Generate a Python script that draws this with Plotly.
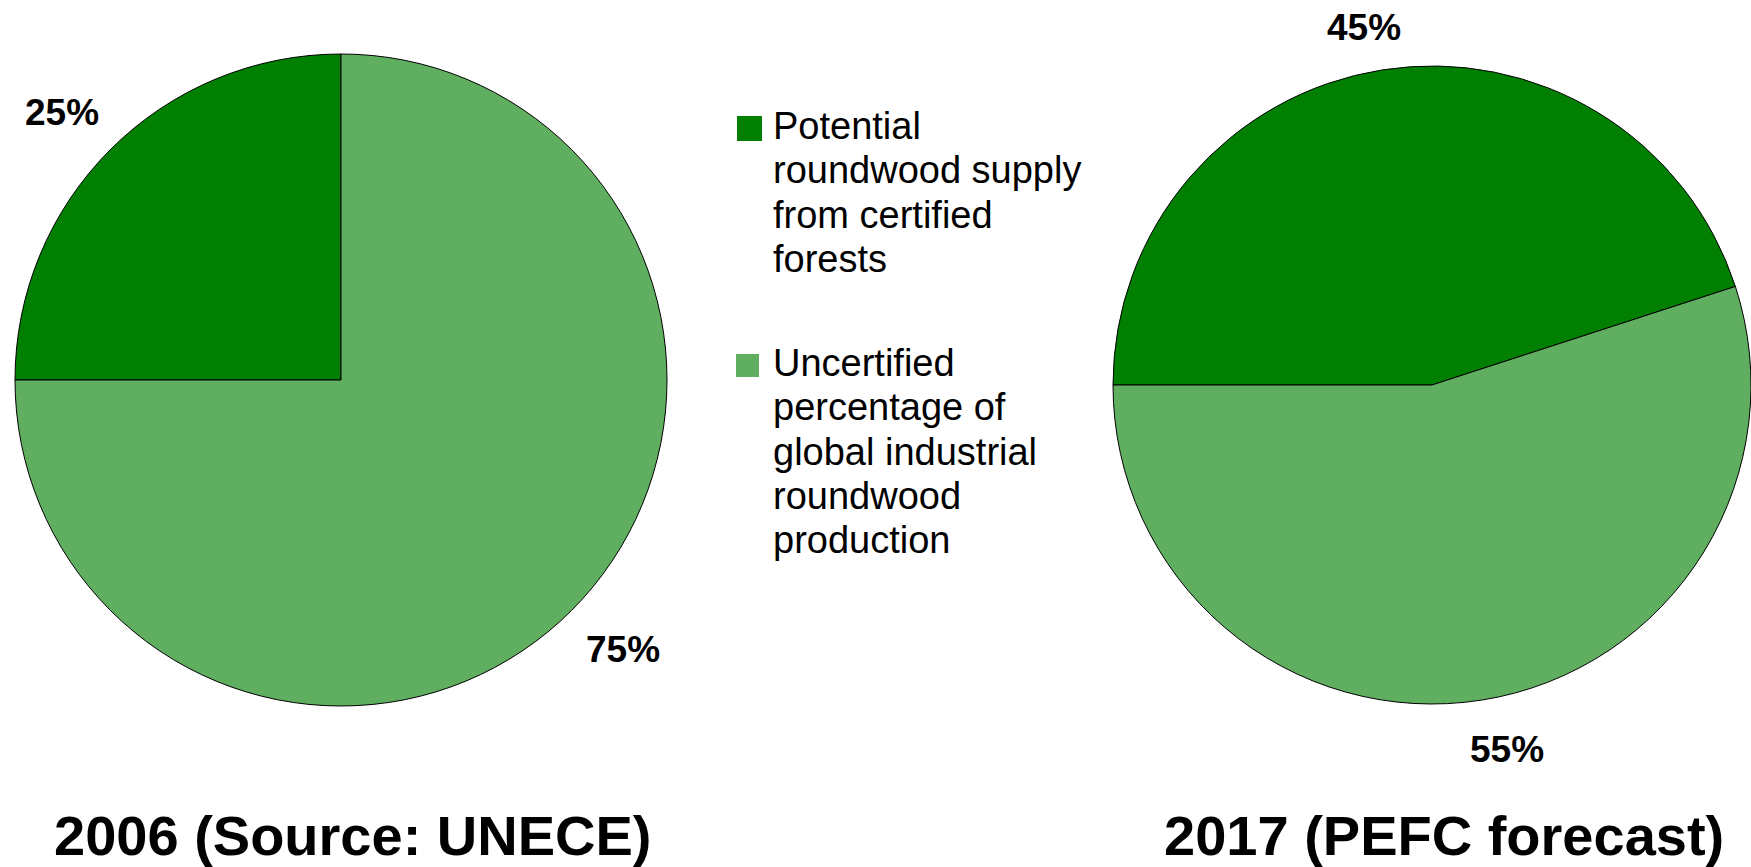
import textwrap
import plotly.graph_objects as go

# Categories and shares (%)
categories = [
    "Potential roundwood supply from certified forests",
    "Uncertified percentage of global industrial roundwood production",
]
share_2006 = [25, 75]
share_2017 = [45, 55]
chart_titles = ["2006 (Source: UNECE)", "2017 (PEFC forecast)"]

colors = ["#007F00", "#60AF60"]
W, H = 1751, 867
FONT = "Arial, Liberation Sans, sans-serif"


def px_x(x):
    return x / W


def px_y(y):
    return 1 - y / H


def domain_for(cx, cy, r):
    return dict(
        x=[max(0, (cx - r) / W), min(1, (cx + r) / W)],
        y=[max(0, (H - cy - r) / H), min(1, (H - cy + r) / H)],
    )


fig = go.Figure()

pie_common = dict(
    labels=categories,
    sort=False,
    direction="clockwise",
    rotation=270,
    textinfo="none",
    hoverinfo="label+percent",
    showlegend=False,
    marker=dict(colors=colors, line=dict(color="#000000", width=1)),
)

fig.add_trace(go.Pie(values=share_2006, domain=domain_for(341, 380, 326), **pie_common))
fig.add_trace(go.Pie(values=share_2017, domain=domain_for(1432, 385, 319), **pie_common))

annotations = []

# Percentage labels placed around each pie
label_pos_2006 = [(62, 113), (623, 649)]
label_pos_2017 = [(1364, 27), (1507, 749)]
for vals, positions in ((share_2006, label_pos_2006), (share_2017, label_pos_2017)):
    for v, (x, y) in zip(vals, positions):
        annotations.append(dict(
            x=px_x(x), y=px_y(y), xref="paper", yref="paper",
            text=f"<b>{v}%</b>", showarrow=False,
            xanchor="center", yanchor="middle",
            font=dict(family=FONT, size=37, color="#000000"),
        ))

# Titles under each pie
for title, (x, y) in zip(chart_titles, [(353, 835), (1444, 835)]):
    annotations.append(dict(
        x=px_x(x), y=px_y(y), xref="paper", yref="paper",
        text=f"<b>{title}</b>", showarrow=False,
        xanchor="center", yanchor="middle",
        font=dict(family=FONT, size=56, color="#000000"),
    ))

# Legend: colour squares with wrapped category text
shapes = []
legend_blocks = [
    dict(square=(737, 116, 25), first_baseline=141),
    dict(square=(736, 354, 23), first_baseline=378),
]
line_step = 44.3
for cat, color, blk in zip(categories, colors, legend_blocks):
    sx, sy, s = blk["square"]
    shapes.append(dict(
        type="rect", xref="paper", yref="paper",
        x0=px_x(sx), x1=px_x(sx + s), y0=px_y(sy + s), y1=px_y(sy),
        fillcolor=color, line=dict(width=0),
    ))
    for i, line in enumerate(textwrap.wrap(cat, width=17)):
        base = blk["first_baseline"] + i * line_step
        annotations.append(dict(
            x=px_x(771), y=px_y(base + 8), xref="paper", yref="paper",
            text=line, showarrow=False,
            xanchor="left", yanchor="bottom",
            font=dict(family=FONT, size=38, color="#000000"),
        ))

fig.update_layout(
    width=W, height=H,
    margin=dict(l=0, r=0, t=0, b=0),
    paper_bgcolor="#FFFFFF",
    plot_bgcolor="#FFFFFF",
    annotations=annotations,
    shapes=shapes,
)

fig.write_html("out.html")
